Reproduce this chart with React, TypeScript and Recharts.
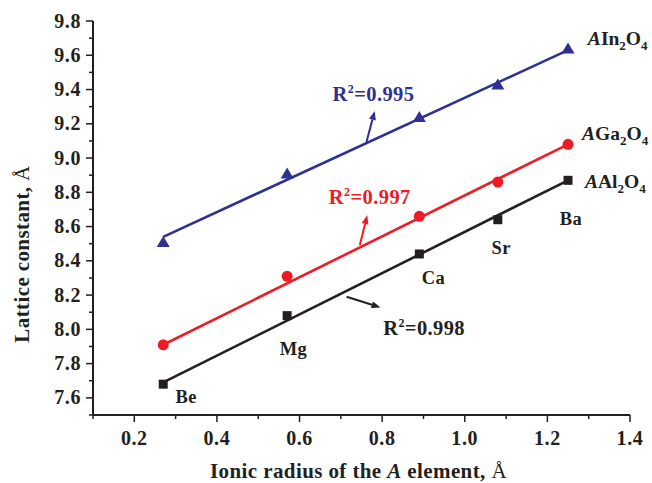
import React from "react";
import {
  ComposedChart,
  Scatter,
  XAxis,
  YAxis,
  ReferenceDot,
  ReferenceLine,
} from "recharts";

// ionic radius of A (Å) and lattice constants (Å)
const radius = [0.27, 0.57, 0.89, 1.08, 1.25];
const elements = ["Be", "Mg", "Ca", "Sr", "Ba"];
const alO4 = [7.68, 8.08, 8.44, 8.64, 8.87];
const gaO4 = [7.91, 8.31, 8.66, 8.86, 9.08];
const inO4 = [8.51, 8.91, 9.24, 9.43, 9.64];

// linear fit ends
const fitX = [0.27, 1.25];
const alFit = [7.69, 8.87];
const gaFit = [7.91, 9.08];
const inFit = [8.54, 9.63];

const xTicks = [0.1, 0.2, 0.3, 0.4, 0.5, 0.6, 0.7, 0.8, 0.9, 1.0, 1.1, 1.2, 1.3, 1.4];
const yTicks = [
  7.5, 7.6, 7.7, 7.8, 7.9, 8.0, 8.1, 8.2, 8.3, 8.4, 8.5, 8.6, 8.7, 8.8, 8.9, 9.0,
  9.1, 9.2, 9.3, 9.4, 9.5, 9.6, 9.7, 9.8,
];

// element names, placed next to the AAl2O4 points
const elementLabelX = [0.3, 0.552, 0.896, 1.065, 1.23];
const elementLabelY = [7.572, 7.85, 8.264, 8.439, 8.608];

// R² notes: text spot and arrow (from, to)
const r2Text = ["0.995", "0.997", "0.998"];
const r2Color = ["#2E3192", "#ED1C24", "#231F20"];
const r2TextX = [0.68, 0.671, 0.8025];
const r2TextY = [9.333, 8.731, 7.967];
const arrowFrom = [
  [0.762, 9.094],
  [0.746, 8.492],
  [0.714, 8.19],
];
const arrowTo = [
  [0.782, 9.275],
  [0.764, 8.667],
  [0.796, 8.128],
];

// series names at the right end
const seriesName = ["In", "Ga", "Al"];
const seriesNameX = [1.298, 1.284, 1.291];
const seriesNameY = [9.658, 9.104, 8.824];

const BLUE = "#2E3192";
const RED = "#ED1C24";
const BLACK = "#231F20";
const FONT = "'Liberation Serif', 'Times New Roman', serif";

const toPoints = (xs: number[], ys: number[]) => xs.map((x, i) => ({ x, y: ys[i] }));

const isMajor = (v: number) => Math.round(v * 10) % 2 === 0;

const XTick = (props: any) => {
  const { x, y, payload } = props;
  const v = payload.value;
  if (!isMajor(v)) {
    return <line x1={x} y1={y} x2={x} y2={y + 4} stroke={BLACK} strokeWidth={1.5} />;
  }
  return (
    <g>
      <line x1={x} y1={y} x2={x} y2={y + 7} stroke={BLACK} strokeWidth={1.5} />
      <text
        x={x}
        y={y + 30}
        textAnchor="middle"
        fontSize={20}
        letterSpacing={0.6}
        fontWeight="bold"
        fontFamily={FONT}
        fill={BLACK}
      >
        {v.toFixed(1)}
      </text>
    </g>
  );
};

const YTick = (props: any) => {
  const { x, y, payload } = props;
  const v = payload.value;
  if (!isMajor(v)) {
    return <line x1={x - 4} y1={y} x2={x} y2={y} stroke={BLACK} strokeWidth={1.5} />;
  }
  return (
    <g>
      <line x1={x - 7} y1={y} x2={x} y2={y} stroke={BLACK} strokeWidth={1.5} />
      <text
        x={x - 12}
        y={y + 6.6}
        textAnchor="end"
        fontSize={20}
        letterSpacing={0.6}
        fontWeight="bold"
        fontFamily={FONT}
        fill={BLACK}
      >
        {v.toFixed(1)}
      </text>
    </g>
  );
};

const Square = (p: any) => <rect x={p.cx - 4.5} y={p.cy - 4.5} width={9} height={9} fill={BLACK} />;
const Dot = (p: any) => <circle cx={p.cx} cy={p.cy} r={5.5} fill={RED} />;
const Tri = (p: any) => (
  <polygon
    points={`${p.cx},${p.cy - 6} ${p.cx - 6.5},${p.cy + 5} ${p.cx + 6.5},${p.cy + 5}`}
    fill={BLUE}
  />
);
const NoShape = () => <g />;

const Arrow = (color: string) => (p: any) => {
  const { x1, y1, x2, y2 } = p;
  const a = Math.atan2(y2 - y1, x2 - x1);
  const len = 9;
  const w = 3.5;
  const bx = x2 - len * Math.cos(a);
  const by = y2 - len * Math.sin(a);
  const nx = -Math.sin(a) * w;
  const ny = Math.cos(a) * w;
  return (
    <g>
      <line x1={x1} y1={y1} x2={bx} y2={by} stroke={color} strokeWidth={2} />
      <polygon points={`${x2},${y2} ${bx + nx},${by + ny} ${bx - nx},${by - ny}`} fill={color} />
    </g>
  );
};

const App = () => {
  return (
    <div style={{ position: "absolute", left: 0, top: 0, width: 652, height: 483, background: "#fff" }}>
      <ComposedChart
        width={652}
        height={483}
        margin={{ top: 21, right: 22, left: 33, bottom: 38 }}
      >
        <XAxis
          type="number"
          dataKey="x"
          domain={[0.1, 1.4]}
          ticks={xTicks}
          interval={0}
          tickSize={0}
          tickMargin={0}
          tickLine={false}
          tick={<XTick />}
          axisLine={{ stroke: BLACK, strokeWidth: 2 }}
          label={{
            content: (lp: any) => {
              const vb = lp.viewBox;
              return (
                <text
                  x={vb.x + vb.width / 2 - 3}
                  y={vb.y + 63}
                  textAnchor="middle"
                  fontSize={21}
                  letterSpacing={0.4}
                  fontWeight="bold"
                  fontFamily={FONT}
                  fill={BLACK}
                >
                  Ionic radius of the <tspan fontStyle="italic">A</tspan> element,{" "}
                  <tspan fontWeight="normal">Å</tspan>
                </text>
              );
            },
          }}
        />
        <YAxis
          type="number"
          dataKey="y"
          domain={[7.5, 9.8]}
          ticks={yTicks}
          interval={0}
          tickSize={0}
          tickMargin={0}
          tickLine={false}
          tick={<YTick />}
          axisLine={{ stroke: BLACK, strokeWidth: 2 }}
          label={{
            content: (lp: any) => {
              const vb = lp.viewBox;
              const cx = vb.x - 11;
              const cy = vb.y + vb.height / 2 + 36;
              return (
                <text
                  x={cx}
                  y={cy}
                  transform={`rotate(-90 ${cx} ${cy})`}
                  textAnchor="middle"
                  dominantBaseline="central"
                  fontSize={21}
                  letterSpacing={0.4}
                  fontWeight="bold"
                  fontFamily={FONT}
                  fill={BLACK}
                >
                  Lattice constant, <tspan fontWeight="normal">Å</tspan>
                </text>
              );
            },
          }}
        />

        <Scatter data={toPoints(fitX, inFit)} line={{ stroke: BLUE, strokeWidth: 2.6 }} shape={NoShape} isAnimationActive={false} />
        <Scatter data={toPoints(fitX, gaFit)} line={{ stroke: RED, strokeWidth: 2.6 }} shape={NoShape} isAnimationActive={false} />
        <Scatter data={toPoints(fitX, alFit)} line={{ stroke: BLACK, strokeWidth: 2.6 }} shape={NoShape} isAnimationActive={false} />

        <Scatter data={toPoints(radius, inO4)} shape={Tri} isAnimationActive={false} />
        <Scatter data={toPoints(radius, gaO4)} shape={Dot} isAnimationActive={false} />
        <Scatter data={toPoints(radius, alO4)} shape={Square} isAnimationActive={false} />

        {elements.map((el, i) => (
          <ReferenceDot
            key={el}
            x={elementLabelX[i]}
            y={elementLabelY[i]}
            r={0}
            shape={(p: any) => (
              <text x={p.cx} y={p.cy} fontSize={18.5} letterSpacing={0.4} fontWeight="bold" fontFamily={FONT} fill={BLACK}>
                {el}
              </text>
            )}
          />
        ))}

        {r2Text.map((t, i) => (
          <ReferenceLine
            key={`arrow-${i}`}
            segment={[
              { x: arrowFrom[i][0], y: arrowFrom[i][1] },
              { x: arrowTo[i][0], y: arrowTo[i][1] },
            ]}
            shape={Arrow(r2Color[i])}
          />
        ))}

        {r2Text.map((t, i) => (
          <ReferenceDot
            key={`r2-${i}`}
            x={r2TextX[i]}
            y={r2TextY[i]}
            r={0}
            shape={(p: any) => (
              <text x={p.cx} y={p.cy} fontSize={20.5} letterSpacing={0.4} fontWeight="bold" fontFamily={FONT} fill={r2Color[i]}>
                R
                <tspan dy={-8} fontSize={12}>2</tspan>
                <tspan dy={8}>={t}</tspan>
              </text>
            )}
          />
        ))}

        {seriesName.map((s, i) => (
          <ReferenceDot
            key={`name-${s}`}
            x={seriesNameX[i]}
            y={seriesNameY[i]}
            r={0}
            shape={(p: any) => (
              <text x={p.cx} y={p.cy} fontSize={19.5} fontWeight="bold" fontFamily={FONT} fill={BLACK}>
                <tspan fontStyle="italic">A</tspan>
                {s}
                <tspan dy={5} fontSize={13}>2</tspan>
                <tspan dy={-5}>O</tspan>
                <tspan dy={5} fontSize={13}>4</tspan>
              </text>
            )}
          />
        ))}
      </ComposedChart>
    </div>
  );
};

export default App;
